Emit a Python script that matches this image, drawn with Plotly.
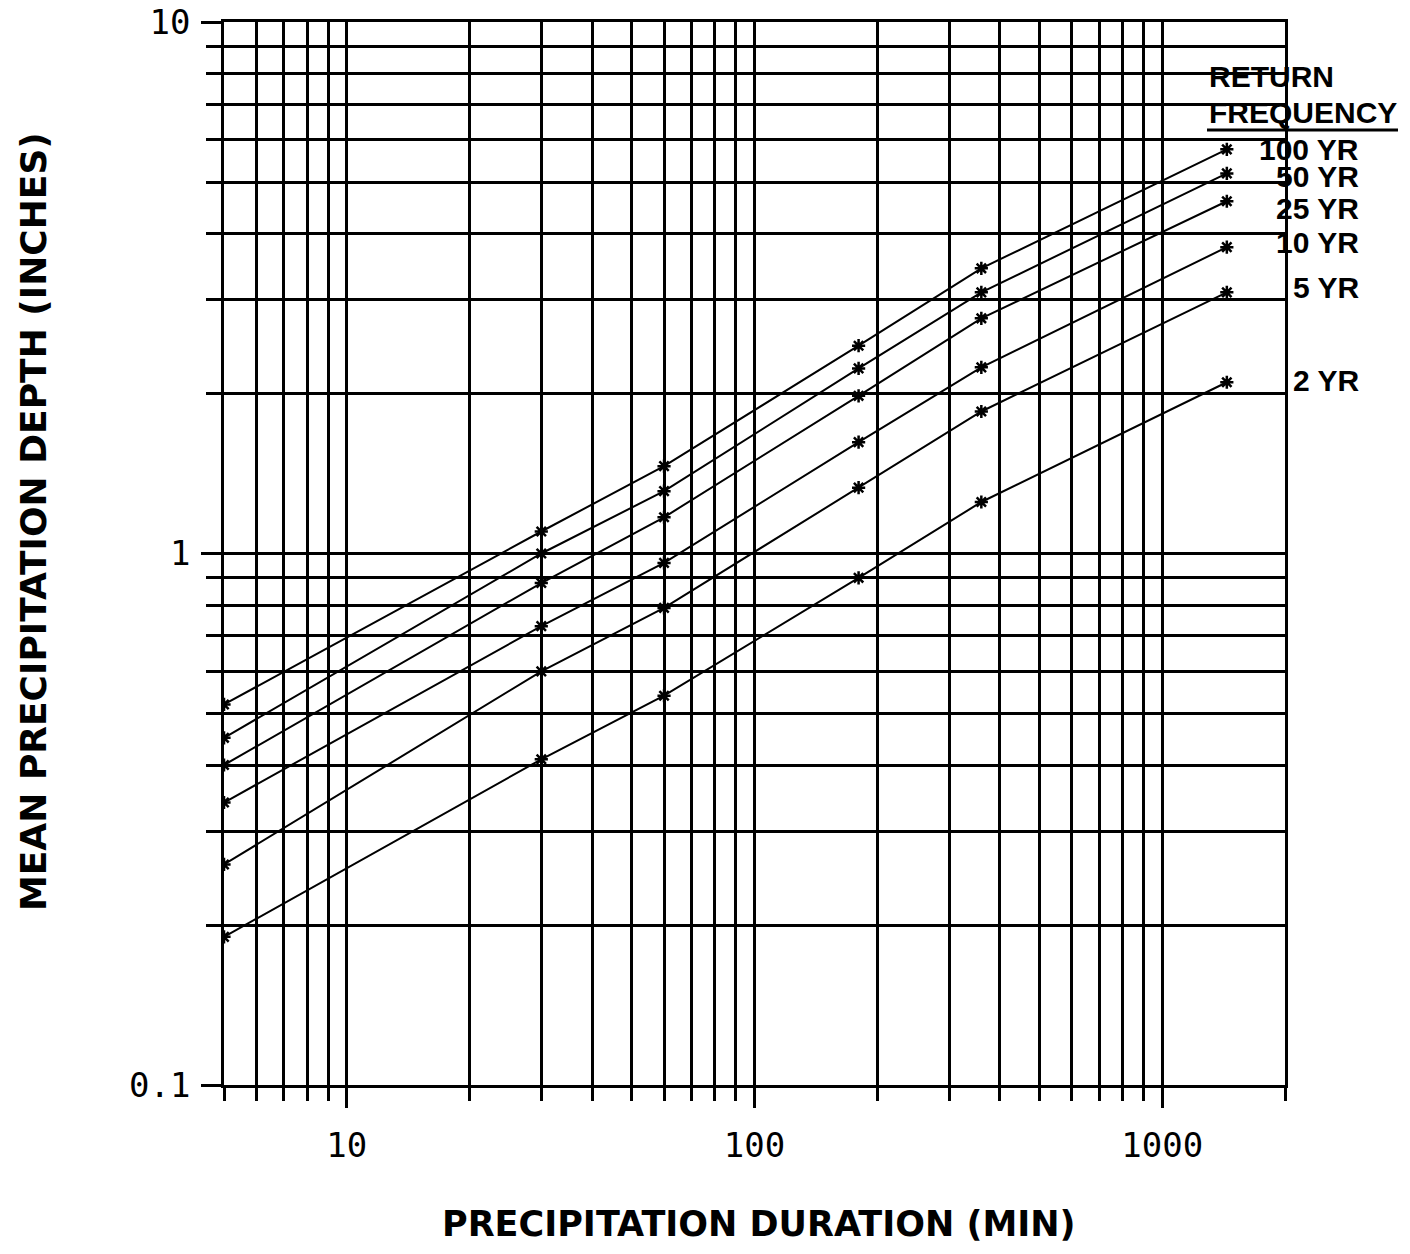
import math
import plotly.graph_objects as go

# ---- data ----
durations = [5, 30, 60, 180, 360, 1440]
series_names = ["100 YR", "50 YR", "25 YR", "10 YR", "5 YR", "2 YR"]
depth_100 = [0.52, 1.10, 1.46, 2.46, 3.44, 5.76]
depth_50 = [0.45, 1.00, 1.31, 2.23, 3.10, 5.19]
depth_25 = [0.40, 0.88, 1.17, 1.98, 2.77, 4.60]
depth_10 = [0.34, 0.73, 0.96, 1.62, 2.24, 3.77]
depth_5 = [0.26, 0.60, 0.79, 1.33, 1.85, 3.10]
depth_2 = [0.19, 0.41, 0.54, 0.90, 1.25, 2.10]
all_depths = [depth_100, depth_50, depth_25, depth_10, depth_5, depth_2]

x_major = [10, 100, 1000]
x_major_text = ["10", "100", "1000"]
y_major = [0.1, 1, 10]
y_major_text = ["0.1", "1", "10"]

x_minor = [d * 10 ** e for e in range(0, 4) for d in range(2, 10) if 5 <= d * 10 ** e <= 2000]
y_minor = [d * 10 ** e for e in (-1, 0) for d in range(2, 10)]

# label vertical positions (paper coords) for the return-period labels
label_y = [0.8796, 0.8542, 0.8241, 0.7921, 0.7498, 0.6623]

fig = go.Figure()
for name, vals in zip(series_names, all_depths):
    fig.add_trace(go.Scatter(
        x=durations, y=vals, mode="lines+markers", name=name,
        line=dict(color="black", width=2),
        marker=dict(symbol="asterisk-open", size=11, color="black",
                    line=dict(color="black", width=2.5)),
        showlegend=False,
    ))

tick_font = dict(family="DejaVu Sans Mono", size=34, color="black")
grid_w = 2.5

fig.update_xaxes(
    type="log", range=[math.log10(5), math.log10(2000)],
    tickmode="array", tickvals=x_major, ticktext=x_major_text,
    tickfont=tick_font, ticks="outside", ticklen=20, tickwidth=grid_w, tickcolor="black",
    showgrid=True, gridcolor="black", gridwidth=grid_w,
    showline=True, linecolor="black", linewidth=grid_w, mirror=True,
    minor=dict(tickmode="array", tickvals=x_minor, showgrid=True, gridcolor="black",
               gridwidth=grid_w, ticks="outside", ticklen=13, tickwidth=grid_w, tickcolor="black"),
    ticklabelstandoff=8, zeroline=False,
)
fig.update_yaxes(
    type="log", range=[-1, 1],
    tickmode="array", tickvals=y_major, ticktext=y_major_text,
    tickfont=tick_font, ticks="outside", ticklen=20, tickwidth=grid_w, tickcolor="black",
    showgrid=True, gridcolor="black", gridwidth=grid_w,
    showline=True, linecolor="black", linewidth=grid_w, mirror=True,
    minor=dict(tickmode="array", tickvals=y_minor, showgrid=True, gridcolor="black",
               gridwidth=grid_w, ticks="outside", ticklen=15, tickwidth=grid_w, tickcolor="black"),
    ticklabelstandoff=4, zeroline=False,
)

title_font = dict(family="DejaVu Sans", size=35, color="black")
label_font = dict(family="Liberation Sans", size=30, color="black")
annotations = [
    dict(text="<b>PRECIPITATION DURATION (MIN)</b>", xref="paper", yref="paper",
         x=0.504, y=-0.1308, xanchor="center", yanchor="middle", showarrow=False,
         font=title_font),
    dict(text="<b>MEAN PRECIPITATION DEPTH (INCHES)</b>", xref="paper", yref="paper",
         x=-0.18, y=0.5296, xanchor="center", yanchor="middle", showarrow=False,
         textangle=-90, font=dict(family="DejaVu Sans", size=36, color="black")),
    dict(text="<b>RETURN</b>", xref="paper", yref="paper", x=0.9265, y=0.9492,
         xanchor="left", yanchor="middle", showarrow=False, font=label_font),
    dict(text="<b>FREQUENCY</b>", xref="paper", yref="paper", x=0.9265, y=0.9153,
         xanchor="left", yanchor="middle", showarrow=False, font=label_font),
]
for name, yy in zip(series_names, label_y):
    annotations.append(dict(text="<b>" + name + "</b>", xref="paper", yref="paper",
                            x=1.0716, y=yy, xanchor="right", yanchor="middle",
                            showarrow=False, font=label_font))

fig.update_layout(
    width=1410, height=1254,
    margin=dict(l=224, r=125, t=22, b=169, autoexpand=False),
    paper_bgcolor="white", plot_bgcolor="white",
    annotations=annotations,
    shapes=[dict(type="line", xref="paper", yref="paper", x0=0.9265, x1=1.1065,
                 y0=0.8984, y1=0.8984, line=dict(color="black", width=3))],
)

fig.write_html("out.html")
